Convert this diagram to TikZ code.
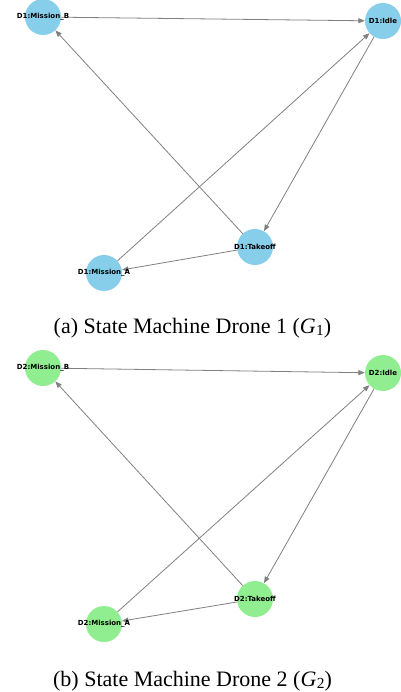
\documentclass[tikz,border=0pt]{standalone}
\usepackage{fontspec}
\setmainfont{Liberation Serif}
\setsansfont{DejaVu Sans}
\usetikzlibrary{arrows.meta}
\definecolor{skyblue}{RGB}{135,206,235}
\definecolor{lightgreen}{RGB}{144,238,144}
\definecolor{edgegray}{RGB}{128,128,128}
% italic G with a lowered upright index, as in Times math
\newcommand{\gidx}[1]{\textit{G}\kern0.02em\raisebox{-0.28ex}{\fontsize{15.4}{16}\selectfont #1}}
\tikzset{
  state/.style={circle, draw=none, minimum size=36pt, inner sep=0pt},
  bluestate/.style={state, fill=skyblue},
  greenstate/.style={state, fill=lightgreen},
  statelabel/.style={inner sep=0pt, font=\sffamily\bfseries\fontsize{7}{8}\selectfont},
  trans/.style={draw=edgegray, line width=0.8pt, -{Triangle[length=6.5pt,width=5pt]}},
  caption/.style={anchor=base, inner sep=0pt, font=\fontsize{22}{26}\selectfont}
}
\begin{document}
\begin{tikzpicture}[x=1pt, y=-1pt]
\useasboundingbox (0,0) rectangle (400,692);

% ---- Drone 1 ----
\node[bluestate] (b1) at (43,17) {};
\node[bluestate] (i1) at (383,21) {};
\node[bluestate] (t1) at (255,247) {};
\node[bluestate] (a1) at (104,273) {};
\draw[trans] (b1) -- (i1);
\draw[trans] (t1) -- (b1);
\draw[trans] (a1) -- (i1);
\draw[trans] (i1) -- (t1);
\draw[trans] (t1) -- (a1);
\node[statelabel] (lb1) at (b1) {D1:Mission\_B};
\node[statelabel] (li1) at (i1) {D1:Idle};
\node[statelabel] (lt1) at (t1) {D1:Takeoff};
\node[statelabel] (la1) at (a1) {D1:Mission\_A};
\node[caption] (cap1) at (192.5,333) {(a) State Machine Drone 1 (\gidx{1})};

% ---- Drone 2 ----
\node[greenstate] (b2) at (43,368) {};
\node[greenstate] (i2) at (383,373) {};
\node[greenstate] (t2) at (255,599) {};
\node[greenstate] (a2) at (104,624) {};
\draw[trans] (b2) -- (i2);
\draw[trans] (t2) -- (b2);
\draw[trans] (a2) -- (i2);
\draw[trans] (i2) -- (t2);
\draw[trans] (t2) -- (a2);
\node[statelabel] (lb2) at (b2) {D2:Mission\_B};
\node[statelabel] (li2) at (i2) {D2:Idle};
\node[statelabel] (lt2) at (t2) {D2:Takeoff};
\node[statelabel] (la2) at (a2) {D2:Mission\_A};
\node[caption] (cap2) at (192.5,686) {(b) State Machine Drone 2 (\gidx{2})};
\end{tikzpicture}
\end{document}
